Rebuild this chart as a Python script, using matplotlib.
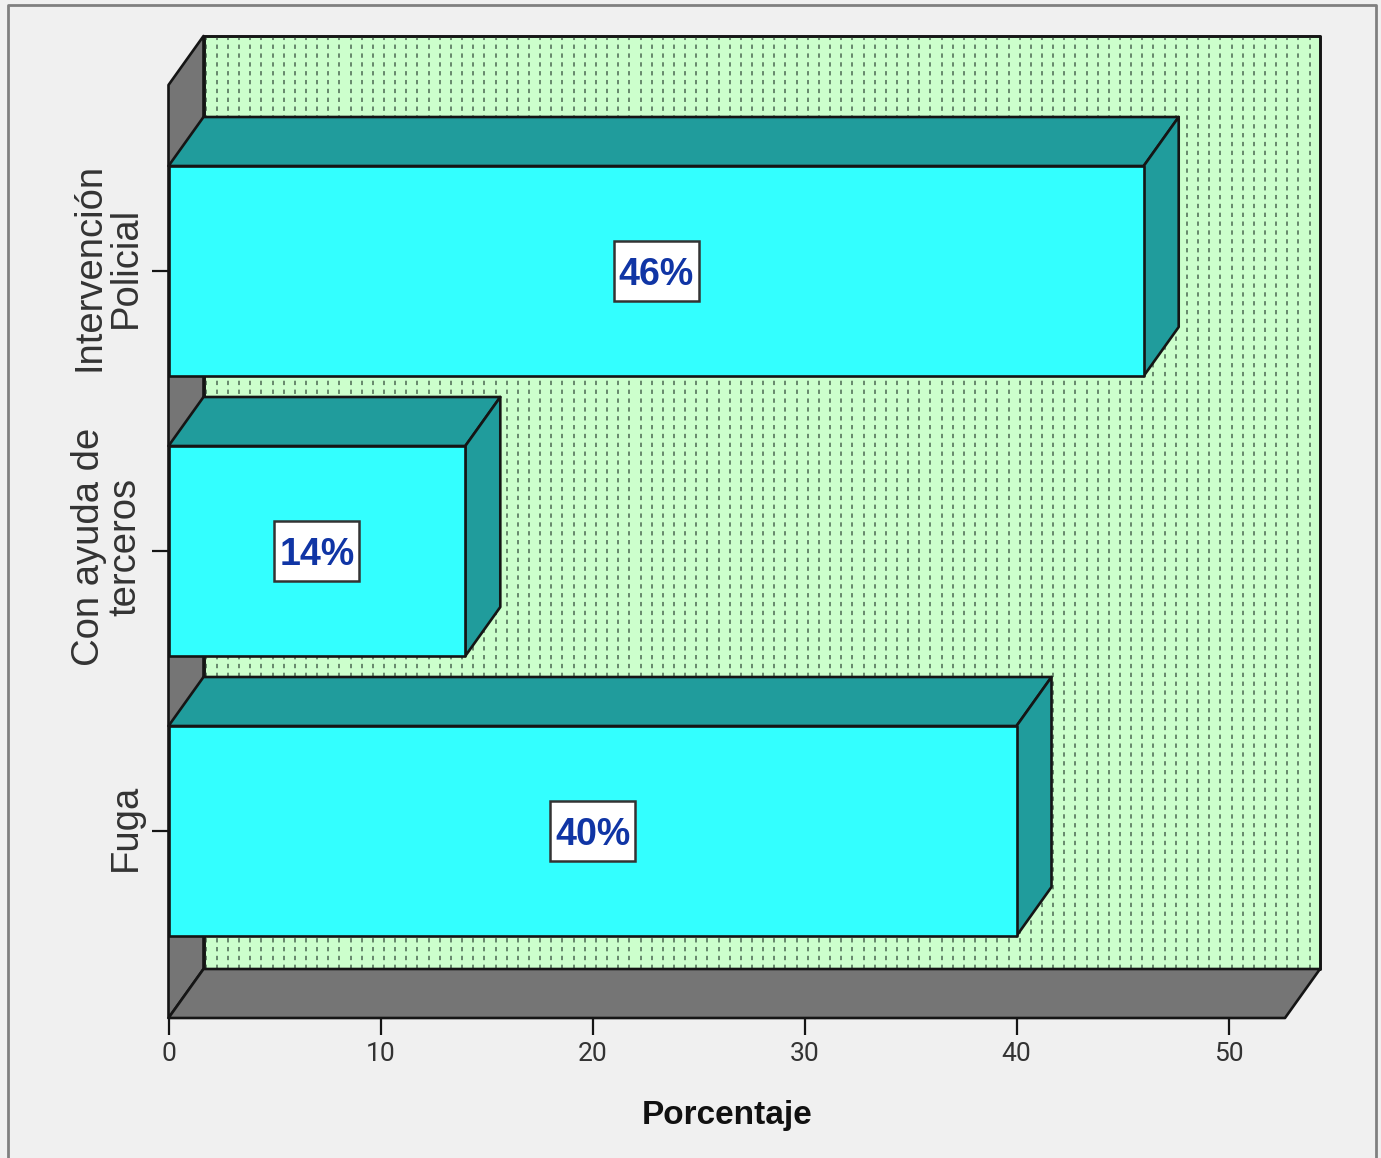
import matplotlib
matplotlib.use("Agg")
import matplotlib.pyplot as plt
from matplotlib.lines import Line2D
from matplotlib.patches import Polygon, Rectangle
from matplotlib.transforms import ScaledTranslation
import numpy as np

categories = ["Fuga", "Con ayuda de\nterceros", "Intervención\nPolicial"]
values = [40, 14, 46]
labels = ["40%", "14%", "46%"]
xticks = [0, 10, 20, 30, 40, 50]

W, H = 1381, 1158
bg = "#f0f0f0"
edge = "#151515"
wall = "#757575"
front = "#33ffff"
side = "#209c9c"
back = "#ccffcc"

# front plane of the 3d box, in pixels
left, right, top, bottom = 168.5, 1285, 85, 1018

fig = plt.figure(figsize=(W / 100, H / 100), dpi=100, facecolor=bg)
ax = fig.add_axes([left / W, 1 - bottom / H, (right - left) / W, (bottom - top) / H])
ax.set_facecolor("none")

xmax = (right - left) / 21.2
ymin, ymax = -(bottom - 831) / 280, (831 - top) / 280
ax.set_xlim(0, xmax)
ax.set_ylim(ymin, ymax)

# depth of the box
dx = 35 / 21.2
dy = 49 / 280
bar_h = 0.75
box_w, box_h = 85 / 21.2, 60 / 280


def face(pts, color, z):
    ax.add_patch(Polygon(pts, closed=True, fc=color, ec=edge, lw=1.9, zorder=z,
                         clip_on=False, joinstyle="round"))


# back wall, left wall and floor
face([(dx, ymin + dy), (xmax + dx, ymin + dy), (xmax + dx, ymax + dy), (dx, ymax + dy)], back, 1)
ax.vlines(np.arange(dx + 0.1, xmax + dx, 0.526), ymin + dy, ymax + dy, color="#5f7f64", lw=1.3,
          linestyles=(0, (2.4, 2.5)), zorder=1.5, clip_on=False)
face([(dx, ymin + dy), (xmax + dx, ymin + dy), (xmax + dx, ymax + dy), (dx, ymax + dy)], "none", 1.6)
face([(0, ymin), (dx, ymin + dy), (dx, ymax + dy), (0, ymax)], wall, 2)
face([(0, ymin), (xmax, ymin), (xmax + dx, ymin + dy), (dx, ymin + dy)], wall, 2)

for i, v in enumerate(values):
    y0, y1 = i - bar_h / 2, i + bar_h / 2
    face([(0, y1), (v, y1), (v + dx, y1 + dy), (dx, y1 + dy)], side, 3)
    face([(v, y0), (v + dx, y0 + dy), (v + dx, y1 + dy), (v, y1)], side, 3)
    face([(0, y0), (v, y0), (v, y1), (0, y1)], front, 4)
    ax.add_patch(Rectangle((v / 2 - box_w / 2, i - box_h / 2), box_w, box_h, fc="white",
                           ec="#333333", lw=1.8, zorder=5))
    ax.text(v / 2, i, labels[i], ha="center", va="center_baseline", fontsize=27, fontweight="bold",
            color="#1035a5", family="Liberation Sans", zorder=6)

for s in ax.spines.values():
    s.set_visible(False)

ax.set_xticks(xticks)
ax.set_xticklabels([str(t) for t in xticks], family="Roboto", fontsize=19, color="#333333")
ax.set_yticks(range(len(categories)))
ax.set_yticklabels(categories, rotation=90, va="center", ha="right", multialignment="center",
                   family="Liberation Sans", fontsize=27.5, linespacing=1.0, color="#333333")
ax.tick_params(axis="x", length=12, width=1.6, color=edge, pad=5)
ax.tick_params(axis="y", length=12, width=1.6, color=edge, pad=6)

# the rotated labels sit a little high in the original
up = ScaledTranslation(0, 4 / 100, fig.dpi_scale_trans)
for t in ax.get_yticklabels():
    t.set_transform(t.get_transform() + up)

ax.set_xlabel("Porcentaje", family="Liberation Sans", fontweight="bold", fontsize=24, color="#111111", labelpad=25)

# outer frame, open at the bottom
xs = [8 / W, 8 / W, 1376 / W, 1376 / W]
ys = [0, 1 - 5 / H, 1 - 5 / H, 0]
fig.add_artist(Line2D(xs, ys, transform=fig.transFigure, color="#808080", lw=2))

fig.savefig("out.png", dpi=100, facecolor=bg)
